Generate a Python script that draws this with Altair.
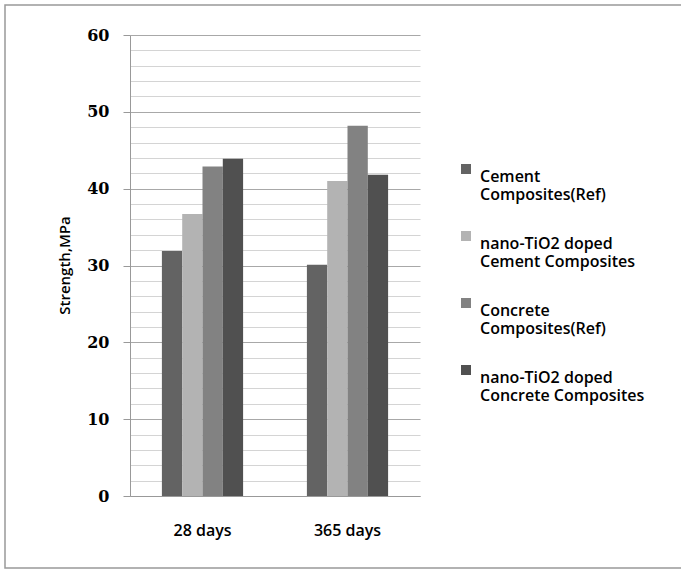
import altair as alt
import pandas as pd

periods = ["28 days", "365 days"]
series = [
    "Cement|Composites(Ref)",
    "nano-TiO2 doped|Cement Composites",
    "Concrete|Composites(Ref)",
    "nano-TiO2 doped|Concrete Composites",
]
colors = ["#636363", "#b3b3b3", "#828282", "#505050"]
vals_28 = [31.9, 36.7, 42.9, 43.9]
vals_365 = [30.1, 41.0, 48.2, 41.8]

rows = []
for s, a, b in zip(series, vals_28, vals_365):
    rows.append({"period": periods[0], "series": s, "value": a})
    rows.append({"period": periods[1], "series": s, "value": b})
df = pd.DataFrame(rows)

y_values = list(range(0, 61, 2))

bars = alt.Chart(df).mark_bar().encode(
    x=alt.X("period:N", sort=periods,
            scale=alt.Scale(paddingInner=0.44, paddingOuter=0.22),
            axis=alt.Axis(title=None, labelAngle=0, ticks=False, domainColor="#999999",
                          labelFont="Open Sans", labelFontSize=16, labelFontWeight=600,
                          labelColor="black", labelPadding=26, grid=False)),
    xOffset=alt.XOffset("series:N", sort=series),
    y=alt.Y("value:Q", scale=alt.Scale(domain=[0, 60], nice=False),
            axis=alt.Axis(values=y_values, title="Strength,MPa",
                          labelExpr="datum.value % 10 == 0 ? datum.label : ''",
                          labelFont="DejaVu Serif", labelFontWeight="bold", labelFontSize=16,
                          labelColor="black", labelPadding=14,
                          tickSize=7, tickColor="#999999",
                          tickOpacity={"condition": {"test": "datum.value % 10 === 0", "value": 1}, "value": 0},
                          gridColor={"condition": {"test": "datum.value % 10 === 0", "value": "#a8a8a8"}, "value": "#d4d4d4"},
                          gridWidth=1.2,
                          domainColor="#999999",
                          titleFont="Open Sans", titleFontSize=15, titleFontWeight=600,
                          titleColor="black", titleAngle=270, titleX=-66, titleY=230,
                          titleAlign="center", titleBaseline="middle")),
    color=alt.Color("series:N", sort=series,
                    scale=alt.Scale(domain=series, range=colors),
                    legend=alt.Legend(title=None, orient="none", legendX=328, legendY=126,
                                      labelExpr="split(datum.label, '|')",
                                      labelFont="Open Sans", labelFontSize=16, labelFontWeight=600,
                                      labelColor="black",
                                      symbolType="square", symbolSize=100, symbolStrokeWidth=0,
                                      symbolOpacity=1,
                                      labelOffset=6, rowPadding=25, padding=0, labelLimit=300,
                                      labelBaseline="top")),
)

border = alt.Chart(pd.DataFrame({"k": [0]})).mark_rect(
    fill=None, stroke="#999999", strokeWidth=1.5
).encode(x=alt.value(-125), x2=alt.value(580), y=alt.value(-30), y2=alt.value(533))

chart = alt.layer(border, bars).properties(
    width=290, height=461,
    autosize=alt.AutoSizeParams(type="none"),
    padding={"left": 130, "top": 35, "right": 261, "bottom": 78},
    background="white",
).configure_view(stroke=None)

chart.save("out.html", embed_options={"renderer": "svg", "actions": False})
